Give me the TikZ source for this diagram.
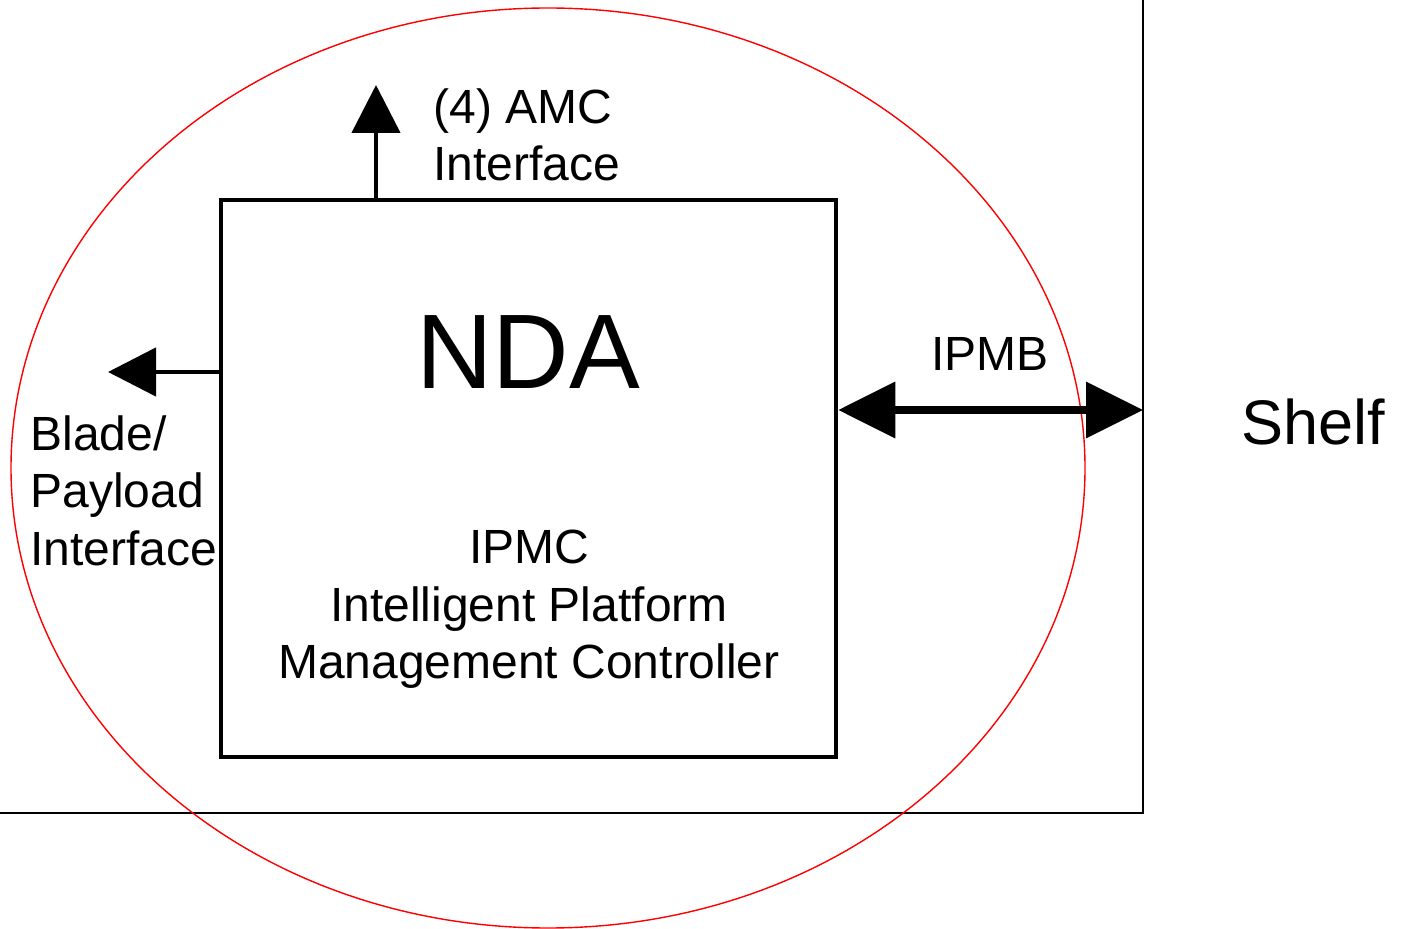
\documentclass[tikz,border=0pt]{standalone}
\usepackage{fontspec}
\setmainfont{Liberation Sans}
\usetikzlibrary{arrows.meta}

\begin{document}
\begin{tikzpicture}[x=0.5pt, y=-0.5pt,
		label text/.style={font=\fontsize{24}{28.75}\selectfont, inner sep=0pt},
		out arrow/.style={line width=2.25pt, -{Triangle[length=24pt, width=24pt]}},
		bus arrow/.style={line width=3.6pt, {Triangle[length=28.5pt, width=27.5pt]}-{Triangle[length=28.5pt, width=27.5pt]}}]
	\useasboundingbox (0,0) rectangle (1406,929);
	% shelf frame and the red outline
	\draw [line width=0.7pt] (1143,0) -- (1143,813) -- (0,813);
	\draw [red, line width=0.7pt] (548,468) ellipse [x radius=537, y radius=460];
	% the controller
	\node (box) [draw, line width=2.25pt, minimum width=307.5pt, minimum height=278.5pt, inner sep=0pt] at (528.5,478.5) {};
	\node (nda) [anchor=base, inner sep=0pt, font=\fontsize{53}{60}\selectfont] at (528,389) {NDA};
	\node (ipmc) [label text, anchor=north, align=center] at (529,530) {IPMC\\Intelligent Platform\\Management Controller};
	% interfaces
	\coordinate (amc) at (376,85);
	\coordinate (blade) at (108,372);
	\coordinate (bus) at (1143,410);
	\draw [out arrow] (box.north -| amc) -- (amc);
	\draw [out arrow] (box.west |- blade) -- (blade);
	\draw [bus arrow] (box.east |- bus) -- (bus);
	\node (amc label) [label text, anchor=north west, align=left] at (433,88) {(4) AMC\\Interface};
	\node (blade label) [label text, anchor=north west, align=left] at (30,415) {Blade/\\Payload\\Interface};
	\node (ipmb) [label text, anchor=base] at (990,371) {IPMB};
	\node (shelf) [anchor=base, inner sep=0pt, font=\fontsize{31.5}{36}\selectfont] at (1313,445) {Shelf};
\end{tikzpicture}
\end{document}
